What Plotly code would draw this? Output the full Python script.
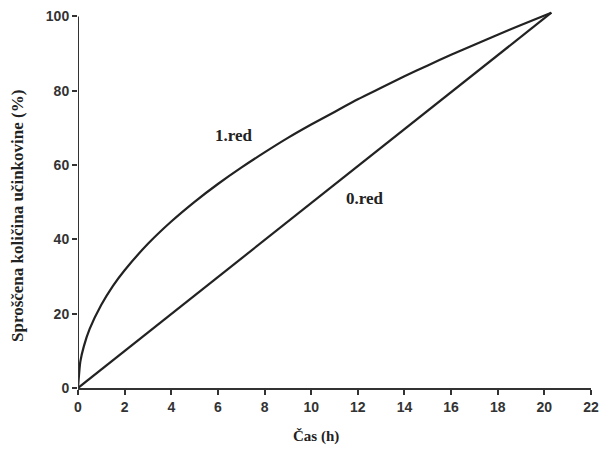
import plotly.graph_objects as go

# Data
t_first = [0, 0.1, 0.25, 0.5, 1, 1.5, 2, 3, 4, 5, 6, 7, 8, 9, 10, 11, 12, 13, 14, 15, 16, 17, 18, 19, 20.3]
y_first = [0, 7.1, 11.2, 15.9, 22.4, 27.5, 31.7, 38.8, 44.8, 50.1, 54.9, 59.3, 63.4, 67.3, 70.9, 74.3, 77.7, 80.8, 83.9, 86.8, 89.7, 92.4, 95.1, 97.7, 101]
t_zero = [0, 20.3]
y_zero = [0, 101]

x_ticks = [0, 2, 4, 6, 8, 10, 12, 14, 16, 18, 20, 22]
y_ticks = [0, 20, 40, 60, 80, 100]

label_first = "1.red"
label_zero = "0.red"
label_first_pos = (6.7, 68)
label_zero_pos = (12.3, 51)

x_title = "Čas (h)"
y_title = "Sproščena količina učinkovine (%)"

line_color = "#222222"

fig = go.Figure()
fig.add_trace(go.Scatter(x=t_first, y=y_first, mode="lines", line=dict(color=line_color, width=2.2, shape="spline", smoothing=0.6)))
fig.add_trace(go.Scatter(x=t_zero, y=y_zero, mode="lines", line=dict(color=line_color, width=2.2)))

fig.add_annotation(x=label_first_pos[0], y=label_first_pos[1], text=label_first, showarrow=False,
                   font=dict(family="Liberation Serif", size=17, color="#222", weight="bold"))
fig.add_annotation(x=label_zero_pos[0], y=label_zero_pos[1], text=label_zero, showarrow=False,
                   font=dict(family="Liberation Serif", size=17, color="#222", weight="bold"))

# axis titles
fig.add_annotation(xref="paper", yref="paper", x=-0.118, y=0.455, text=y_title, textangle=-90,
                   showarrow=False, xanchor="center", yanchor="middle",
                   font=dict(family="Liberation Serif", size=17, color="#222", weight="bold"))
fig.add_annotation(xref="paper", yref="paper", x=0.463, y=-0.129, text=x_title,
                   showarrow=False, xanchor="center", yanchor="middle",
                   font=dict(family="Liberation Serif", size=15, color="#222", weight="bold"))

# y-axis line only spans 0..100
fig.add_shape(type="line", xref="x", yref="y", x0=0, x1=0, y0=0, y1=100,
              line=dict(color="#333", width=2))

fig.update_layout(
    width=607, height=452,
    margin=dict(l=78, r=11, t=8, b=64),
    paper_bgcolor="white", plot_bgcolor="white",
    showlegend=False,
    xaxis=dict(range=[0, 22], tickvals=x_ticks, showgrid=False, zeroline=False,
               showline=True, linecolor="#333", linewidth=2,
               ticks="outside", ticklen=5, tickwidth=1.5, tickcolor="#333",
               tickfont=dict(family="Liberation Sans", size=14, color="#333", weight="bold")),
    yaxis=dict(range=[0, 102], tickvals=y_ticks, showgrid=False, zeroline=False,
               showline=False,
               ticks="outside", ticklen=5, tickwidth=1.5, tickcolor="#333",
               tickfont=dict(family="Liberation Sans", size=14, color="#333", weight="bold")),
)

fig.write_html("out.html")
